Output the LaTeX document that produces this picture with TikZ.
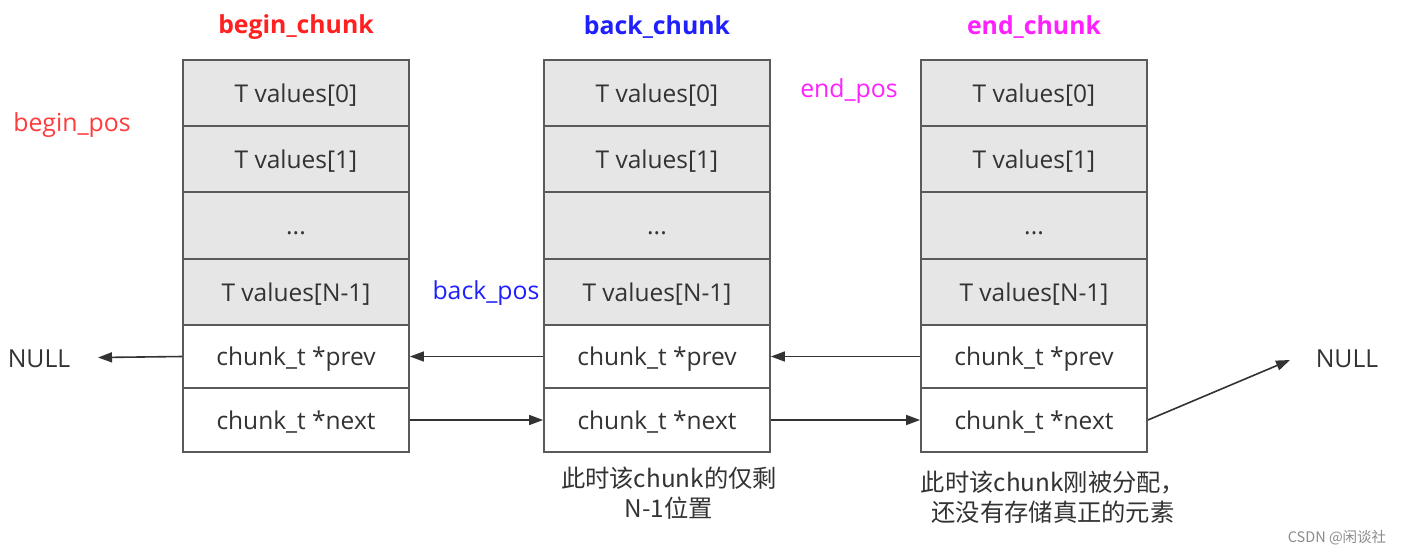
\documentclass[tikz,border=0pt]{standalone}
\usepackage{fontspec}
\setmainfont{Open Sans}
\newfontfamily\cjk{Noto Sans CJK SC}
\usetikzlibrary{arrows.meta}
\definecolor{cellgray}{HTML}{E6E6E6}
\definecolor{edge}{HTML}{5A5A5A}
\definecolor{txt}{HTML}{333333}
\definecolor{myred}{HTML}{FF2020}
\definecolor{myblue}{HTML}{2020FF}
\definecolor{mymag}{HTML}{FF20FF}
\definecolor{posred}{HTML}{FF3B3B}
\tikzset{
  cell/.style={draw=edge, line width=1.8pt, minimum width=226, inner sep=0pt, text=txt,
    font=\fontsize{24.5}{28}\selectfont, text height=22pt, text depth=4pt},
  gcell/.style={cell, fill=cellgray},
  wcell/.style={cell, fill=white},
  titletext/.style={font=\fontsize{24.8}{28}\selectfont\bfseries, inner sep=0pt},
  lbl/.style={font=\fontsize{24.8}{28}\selectfont, inner sep=0pt},
  captext/.style={font=\cjk\fontsize{24.3}{29.5}\selectfont, text=txt, align=center, inner sep=0pt},
  link/.style={draw=txt, line width=1.6pt, -{Triangle[length=14pt,width=10pt]}},
}
\begin{document}
\begin{tikzpicture}[x=1pt,y=-1pt]
\useasboundingbox[fill=white] (0,0) rectangle (1402,555);
% columns
\foreach \c/\x in {a/296, b/657, c/1034}{
  \node[gcell, minimum height=66] (\c0) at (\x,93) {T values[0]};
  \node[gcell, minimum height=66] (\c1) at (\x,159) {T values[1]};
  \node[gcell, minimum height=67] (\c2) at (\x,225.5) {...};
  \node[gcell, minimum height=66] (\c3) at (\x,292) {T values[N-1]};
  \node[wcell, minimum height=63] (\c4) at (\x,356.5) {chunk\_t *prev};
  \node[wcell, minimum height=64] (\c5) at (\x,420) {chunk\_t *next};
}
% titles
\node[titletext, text=myred] (ta) at (296,27.5) {begin\_chunk};
\node[titletext, text=myblue] (tb) at (657,27.5) {back\_chunk};
\node[titletext, text=mymag] (tc) at (1034,27.5) {end\_chunk};
% position labels
\node[lbl, text=posred] (bp) at (72,125.5) {begin\_pos};
\node[lbl, text=myblue] (kp) at (486,293) {back\_pos};
\node[lbl, text=mymag] (ep) at (849,91.5) {end\_pos};
% NULLs
\node[lbl, text=txt] (nl) at (39,359) {NULL};
\node[lbl, text=txt] (nr) at (1347,359) {NULL};
\coordinate (nlt) at (98,357.5);
\coordinate (nrt) at (1290,360);
% links
\draw[link] (a4.west) -- (nlt);
\draw[link] (b4.west) -- (a4.east);
\draw[link] (c4.west) -- (b4.east);
\draw[link] (a5.east) -- (b5.west);
\draw[link] (b5.east) -- (c5.west);
\draw[link] (c5.east) -- (nrt);
% captions
\node[captext] (capb) at (669,493) {此时该chunk的仅剩\\N-1位置};
\node[captext] (capc) at (1053,497) {此时该chunk刚被分配，\\还没有存储真正的元素};
% watermark
\node[font=\cjk\fontsize{14.5}{16}\selectfont, text=black!45, inner sep=0pt] (wm) at (1337,538) {CSDN @闲谈社};
\end{tikzpicture}
\end{document}
